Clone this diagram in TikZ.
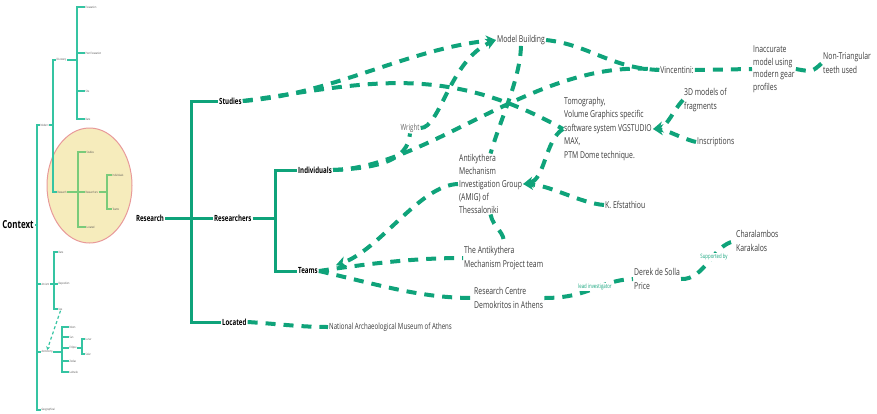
\documentclass[tikz,border=0pt]{standalone}
\usepackage{fontspec}
\setmainfont{Open Sans}[FakeStretch=0.72]
\usetikzlibrary{arrows.meta}
\definecolor{dg}{HTML}{0FA37A}
\definecolor{tg}{HTML}{3A3A3A}
\definecolor{tc}{HTML}{35C4A2}
\definecolor{lc}{HTML}{7ACB7A}
\definecolor{ellfill}{HTML}{F6ECBC}
\definecolor{elldraw}{HTML}{E89A9A}
\tikzset{
  tree/.style={draw=dg, line width=3pt},
  dl/.style={draw=dg, line width=4pt, dash pattern=on 10pt off 8pt},
  arr/.style={-{Stealth[length=10pt,width=11pt,inset=3pt]}},
  lbl/.style={font=\bfseries\fontsize{8.5}{10}\selectfont, inner sep=1pt},
  txt/.style={font=\fontsize{9.5}{13.5}\selectfont, text=tg, align=left, inner sep=1pt},
  elab/.style={font=\fontsize{6}{7}\selectfont, text=dg, fill=white, inner sep=1pt},
  th/.style={font=\fontsize{3}{3}\selectfont, inner sep=0.4pt, anchor=west, text=black!70},
  tl/.style={draw=tc, line width=1.2pt},
  el/.style={draw=lc, line width=1.2pt}
}
\begin{document}
\begin{tikzpicture}[x=1pt,y=-1pt]
\useasboundingbox (0,0) rectangle (877,413);
% ---------- thumbnail ----------
\filldraw[fill=ellfill, draw=elldraw, line width=1pt] (89.5,185.5) ellipse [x radius=42.5, y radius=57.5];
\node[font=\bfseries\fontsize{11}{13}\selectfont, inner sep=1pt] (ctx) at (18,225) {Context};
\node[th] (tmod) at (40,125) {Modern};
\node[th] (tdis) at (56,60) {Discovery};
\node[th] (tex) at (85,7) {Excavation};
\node[th] (tpe) at (85,53) {Post Excavation};
\node[th] (tsi) at (85,91) {Site};
\node[th] (tda) at (85,119) {Date};
\node[th] (tre) at (57,192) {Research};
\node[th] (tst) at (86,152) {Studies};
\node[th] (trs) at (85,192) {Researchers};
\node[th] (tin) at (112,175) {Individuals};
\node[th] (tte) at (112,209) {Teams};
\node[th] (tlo) at (86,227) {Located};
\node[th] (tan) at (41,284) {Ancient};
\node[th] (td2) at (58,252) {Date};
\node[th] (tdp) at (58,284) {Deposition};
\node[th] (tus) at (58,309) {Use};
\node[th] (tas) at (41,352) {Astronomy};
\node[th] (tmo) at (69,327) {Moon};
\node[th] (tsu) at (69,337) {Sun};
\node[th] (tec) at (69,348) {Eclipse};
\node[th] (tlu) at (85,339) {Lunar};
\node[th] (tso) at (85,354) {Solar};
\node[th] (tzo) at (69,361) {Zodiac};
\node[th] (tla) at (69,372) {Latitude};
\node[th] (tge) at (41,410) {Geographical};
\draw[tl] (ctx.east) -- (37,225);
\draw[tl] (tmod.west) -| (37,410) -- (tge.west);
\draw[tl] (37,284) -- (tan.west);
\draw[tl] (37,352) -- (tas.west);
\draw[tl] (tmod.east) -- (53,125);
\draw[tl] (tdis.west) -| (53,192) -- (tre.west);
\draw[tl] (tdis.east) -- (77,60);
\draw[tl] (tex.west) -| (77,119) -- (tda.west);
\draw[tl] (77,53) -- (tpe.west);
\draw[tl] (77,91) -- (tsi.west);
\draw[el] (tre.east) -- (78,192);
\draw[el] (tst.west) -| (78,227) -- (tlo.west);
\draw[el] (78,192) -- (trs.west);
\draw[el] (trs.east) -- (107,192);
\draw[el] (tin.west) -| (107,209) -- (tte.west);
\draw[tl] (tan.east) -- (54,284);
\draw[tl] (td2.west) -| (54,309) -- (tus.west);
\draw[tl] (54,284) -- (tdp.west);
\draw[tl, dash pattern=on 3pt off 2.5pt, -{Stealth[length=3.5pt,width=4pt]}] (tus.south) -- (tas.north);
\draw[tl] (tas.east) -- (62,352);
\draw[tl] (tmo.west) -| (62,372) -- (tla.west);
\draw[tl] (62,337) -- (tsu.west);
\draw[tl] (62,348) -- (tec.west);
\draw[tl] (62,361) -- (tzo.west);
\draw[tl] (tec.east) -- (82,348);
\draw[tl] (tlu.west) -| (82,354) -- (tso.west);
% ---------- main tree ----------
\node[lbl] (res) at (150,218) {Research};
\node[lbl, anchor=west] (stu) at (218,101) {Studies};
\node[lbl, anchor=west] (rsr) at (213,218) {Researchers};
\node[lbl, anchor=west] (loc) at (221,322) {Located};
\node[lbl, anchor=west] (ind) at (297,170) {Individuals};
\node[lbl, anchor=west] (tea) at (297,271) {Teams};
\draw[tree] (res.east) -- (191,218) coordinate (rj);
\draw[tree] (stu.west) -| (rj) |- (loc.west);
\draw[tree] (rj) -- (rsr.west);
\draw[tree] (rsr.east) -- (275,218) coordinate (sj);
\draw[tree] (ind.west) -| (sj) |- (tea.west);
% ---------- right side texts ----------
\node[txt] (mb) at (521,40) {Model Building};
\node[txt] (vin) at (677,70) {Vincentini:};
\node[txt, anchor=west, font=\fontsize{9.5}{12.5}\selectfont] (ina) at (752,69) {Inaccurate\\model using\\modern gear\\profiles};
\node[txt, anchor=west, font=\fontsize{9.5}{14}\selectfont] (ntr) at (822,63) {Non-Triangular\\teeth used};
\node[txt, anchor=west] (tom) at (563,129) {Tomography,\\Volume Graphics specific\\software system VGSTUDIO\\MAX,\\PTM Dome technique.};
\node[txt, anchor=west] (d3) at (683,100) {3D models of\\fragments};
\node[txt, anchor=west] (ins) at (696,142) {Inscriptions};
\node[txt, font=\fontsize{8.5}{10}\selectfont, text=black!60] (wri) at (410,128) {Wright};
\node[txt, anchor=west, font=\fontsize{9.5}{12.8}\selectfont] (ami) at (458,184) {Antikythera\\Mechanism\\Investigation Group\\(AMIG) of\\Thessaloniki};
\node[txt, anchor=west] (efs) at (604,205) {K. Efstathiou};
\node[txt, anchor=west] (pro) at (463,258) {The Antikythera\\Mechanism Project team};
\node[txt, anchor=west] (dem) at (473,298) {Research Centre\\Demokritos in Athens};
\node[txt, anchor=west] (der) at (633,279) {Derek de Solla\\Price};
\node[txt, anchor=west] (cha) at (735,241) {Charalambos\\Karakalos};
\node[txt, anchor=west, font=\fontsize{8.5}{10}\selectfont] (mus) at (328,327) {National Archaeological Museum of Athens};
% ---------- connectors ----------
\draw[dl, arr] (stu.east) .. controls (330,95) and (410,48) .. (mb.west);
\draw[dl] (stu.east) .. controls (360,85) and (440,60) .. (tom.west);
\draw[dl] (ind.east) .. controls (380,168) and (408,160) .. (wri.south);
\draw[dl] (ind.east) .. controls (430,168) and (540,55) .. (vin.west);
\draw[dl, arr] (wri.east) .. controls (440,128) and (450,60) .. (mb.west);
\draw[dl] (mb.east) .. controls (590,45) and (610,68) .. (vin.west);
\draw[dl] (mb.south) .. controls (520,80) and (500,120) .. (ami.north);
\draw[dl] (vin.east) -- (ina.west);
\draw[dl] (ina.east) .. controls (812,72) .. (ntr.west);
\draw[dl, arr] (d3.west) .. controls (672,112) and (668,126) .. (tom.east);
\draw[dl, arr] (ins.west) .. controls (680,138) and (668,130) .. (tom.east);
\draw[dl, arr] (tom.west) .. controls (545,140) and (545,180) .. (ami.east);
\draw[dl, arr] (efs.west) .. controls (580,203) and (550,185) .. (ami.east);
\draw[dl, arr, shorten >=18pt] (ami.west) .. controls (420,185) and (380,250) .. (tea.east);
\draw[dl] (tea.east) .. controls (380,262) and (420,258) .. (pro.west);
\draw[dl] (tea.east) .. controls (380,285) and (420,298) .. (dem.west);
\draw[dl] (ami.south) .. controls (493,228) and (506,232) .. (pro.north);
\draw[dl] (dem.east) .. controls (590,298) and (600,280) .. (der.west);
\draw[dl] (der.east) .. controls (705,280) and (712,245) .. (cha.west);
\draw[dl] (loc.east) .. controls (280,324) and (300,327) .. (mus.west);
\node[elab] (lead) at (595,287) {lead investigator};
\node[elab] (supp) at (714,257) {Supported by};
\end{tikzpicture}
\end{document}
